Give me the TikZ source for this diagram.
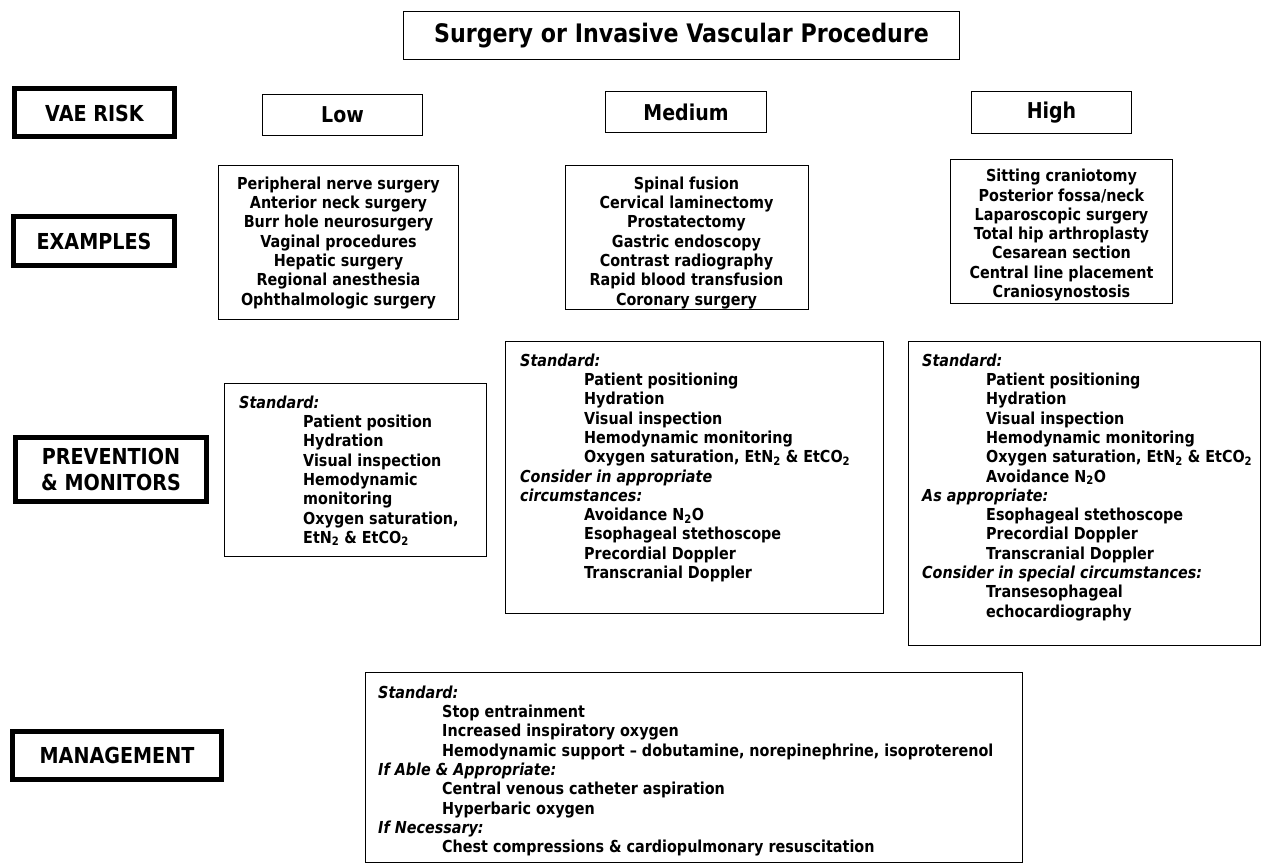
\documentclass[tikz,border=0pt]{standalone}
\usepackage{fontspec}
\setmainfont[FakeStretch=0.87]{DejaVu Sans}
\usepackage{tikz}
\newcommand{\ind}{\hspace*{64pt}}
\newcommand{\lo}[1]{\textsubscript{#1}}
\tikzset{
	vbox/.style={draw,line width=1.5pt,inner sep=0pt},
	hbox/.style={draw,line width=5pt,inner sep=0pt,align=center,font=\fontsize{22}{26}\selectfont\bfseries},
	lvl/.style={vbox,font=\fontsize{21.8}{24}\selectfont\bfseries},
	txt/.style={inner sep=0pt,font=\fontsize{16.5}{19.3}\selectfont\bfseries},
}
\begin{document}
\begin{tikzpicture}[x=1pt,y=-1pt]
	\useasboundingbox (0,0) rectangle (1262,864);
	%% Title
	\node[vbox,minimum width=556pt,minimum height=48pt,font=\fontsize{25.5}{28}\selectfont\bfseries] (title) at (681.5,35.5) {Surgery or Invasive Vascular Procedure};
	%% Row labels
	\node[hbox,minimum width=160pt,minimum height=48pt] (risk) at (94.5,113) {VAE RISK};
	\node[hbox,minimum width=161pt,minimum height=48pt] (examples) at (94,241) {EXAMPLES};
	\node[hbox,minimum width=191pt,minimum height=64pt] (prevention) at (111,469.5) {PREVENTION\\\& MONITORS};
	\node[hbox,minimum width=209pt,minimum height=48pt] (management) at (117,755) {MANAGEMENT};
	%% Risk levels
	\node[lvl,minimum width=160pt,minimum height=41pt] (low) at (342.5,115) {Low};
	\node[lvl,minimum width=161pt,minimum height=41pt] (medium) at (686,112) {Medium};
	\node[lvl,minimum width=160pt,minimum height=42pt] (high) at (1051.5,112.5) {High};
	%% Examples
	\node[vbox,minimum width=240pt,minimum height=154pt] (lowex) at (338.5,242.5) {};
	\node[txt,anchor=north,align=center] (lowextxt) at (338.5,176.5) {Peripheral nerve surgery\\Anterior neck surgery\\Burr hole neurosurgery\\Vaginal procedures\\Hepatic surgery\\Regional anesthesia\\Ophthalmologic surgery};
	\node[vbox,minimum width=243pt,minimum height=144pt] (medex) at (687,237.5) {};
	\node[txt,anchor=north,align=center] (medextxt) at (686.5,176.5) {Spinal fusion\\Cervical laminectomy\\Prostatectomy\\Gastric endoscopy\\Contrast radiography\\Rapid blood transfusion\\Coronary surgery};
	\node[vbox,minimum width=222pt,minimum height=144pt] (highex) at (1061.5,231.5) {};
	\node[txt,anchor=north,align=center] (highextxt) at (1061.5,169) {Sitting craniotomy\\Posterior fossa/neck\\Laparoscopic surgery\\Total hip arthroplasty\\Cesarean section\\Central line placement\\Craniosynostosis};
	%% Prevention & monitors
	\node[vbox,minimum width=262pt,minimum height=173pt] (lowpm) at (355.5,470) {};
	\node[txt,anchor=north west,align=left] (lowpmtxt) at (239,395.5) {\textit{Standard:}\\\ind Patient position\\\ind Hydration\\\ind Visual inspection\\\ind Hemodynamic\\\ind monitoring\\\ind Oxygen saturation,\\\ind EtN\lo{2} \& EtCO\lo{2}};
	\node[vbox,minimum width=378pt,minimum height=272pt] (medpm) at (694.5,477.5) {};
	\node[txt,anchor=north west,align=left] (medpmtxt) at (520,353.5) {\textit{Standard:}\\\ind Patient positioning\\\ind Hydration\\\ind Visual inspection\\\ind Hemodynamic monitoring\\\ind Oxygen saturation, EtN\lo{2} \& EtCO\lo{2}\\\textit{Consider in appropriate}\\\textit{circumstances:}\\\ind Avoidance N\lo{2}O\\\ind Esophageal stethoscope\\\ind Precordial Doppler\\\ind Transcranial Doppler};
	\node[vbox,minimum width=352pt,minimum height=304pt] (highpm) at (1084.5,493.5) {};
	\node[txt,anchor=north west,align=left] (highpmtxt) at (922,353.5) {\textit{Standard:}\\\ind Patient positioning\\\ind Hydration\\\ind Visual inspection\\\ind Hemodynamic monitoring\\\ind Oxygen saturation, EtN\lo{2} \& EtCO\lo{2}\\\ind Avoidance N\lo{2}O\\\textit{As appropriate:}\\\ind Esophageal stethoscope\\\ind Precordial Doppler\\\ind Transcranial Doppler\\\textit{Consider in special circumstances:}\\\ind Transesophageal\\\ind echocardiography};
	%% Management
	\node[vbox,minimum width=657pt,minimum height=190pt] (mgmt) at (694,767.5) {};
	\node[txt,anchor=north west,align=left] (mgmttxt) at (378,685.5) {\textit{Standard:}\\\ind Stop entrainment\\\ind Increased inspiratory oxygen\\\ind Hemodynamic support -- dobutamine, norepinephrine, isoproterenol\\\textit{If Able \& Appropriate:}\\\ind Central venous catheter aspiration\\\ind Hyperbaric oxygen\\\textit{If Necessary:}\\\ind Chest compressions \& cardiopulmonary resuscitation};
\end{tikzpicture}
\end{document}
